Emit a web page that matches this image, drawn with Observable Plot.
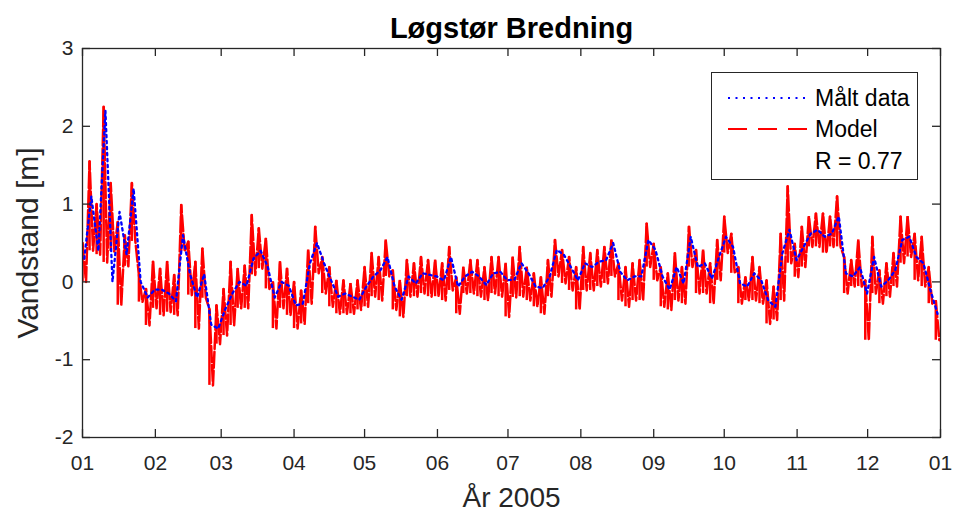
<!DOCTYPE html>
<html><head><meta charset="utf-8">
<script src="https://cdn.jsdelivr.net/npm/d3@7"></script>
<script src="https://cdn.jsdelivr.net/npm/@observablehq/plot@0.6"></script>
<style>
body{margin:0;background:#fff;font-family:"Liberation Sans",Arial,sans-serif;}
#wrap{position:relative;width:957px;height:515px;overflow:hidden;}
#legend{position:absolute;left:711px;top:72px;width:207px;height:108px;border:1.5px solid #262626;background:#fff;box-sizing:border-box;}
#legend svg{position:absolute;left:0;top:0;}
</style></head><body><div id="wrap"></div>
<script>
const title = "Løgstør Bredning";
const yLabel = "Vandstand [m]";
const xLabel = "År 2005";
const legendLabels = ["Målt data", "Model", "R = 0.77"];
const yTicks = [-2, -1, 0, 1, 2, 3];
const yearStart = "2005-01-01";
const yearEnd = "2006-01-01";
const stepDays = 3; // one sample every 3 days, starting Jan 1

// Model (red): high and low of the tidal band in each 3-day step [m]
const modelHigh = [0.5,1.55,1.0,2.25,1.27,0.77,0.6,1.27,0.09,-0.09,0.26,0.17,0.26,0.09,0.99,0.52,0.26,0.43,-0.35,-0.3,
  -0.09,0.26,0.17,0.21,0.86,0.69,0.56,0.0,0.26,0.17,0.0,-0.11,0.41,0.71,0.32,0.19,0.02,0.02,-0.02,0.02,
  0.19,0.37,0.32,0.54,0.15,0.02,0.28,0.24,0.32,0.28,0.28,0.24,0.45,0.06,0.19,0.28,0.28,0.19,0.32,0.32,
  0.24,0.32,0.45,0.19,0.11,0.06,0.28,0.54,0.41,0.32,0.19,0.45,0.37,0.41,0.45,0.54,0.24,0.19,0.24,0.28,
  0.75,0.49,0.19,0.11,0.37,0.19,0.71,0.41,0.41,0.24,0.54,0.84,0.62,0.19,0.06,0.32,0.19,0.02,-0.06,0.62,
  1.23,0.49,0.71,0.84,0.88,0.88,0.84,1.1,0.32,0.28,0.54,0.02,0.58,0.15,0.24,0.37,0.84,0.84,0.62,0.58,
  0.19,-0.24];
const modelLow = [0.0,0.4,0.35,0.25,0.39,-0.3,0.2,0.52,-0.26,-0.56,-0.34,-0.43,-0.39,-0.43,0.39,-0.17,-0.6,-0.21,-1.33,-0.8,
  -0.69,-0.56,-0.34,-0.34,0.09,0.17,-0.09,-0.6,-0.34,-0.43,-0.6,-0.54,-0.28,0.11,-0.15,-0.32,-0.41,-0.41,-0.41,-0.36,
  -0.32,-0.19,-0.24,0.07,-0.36,-0.45,-0.19,-0.19,-0.15,-0.19,-0.19,-0.24,-0.11,-0.41,-0.15,-0.15,-0.19,-0.24,-0.15,-0.19,
  -0.45,-0.2,-0.19,-0.24,-0.32,-0.41,-0.19,0.07,-0.02,-0.11,-0.36,-0.11,-0.11,-0.06,-0.02,0.07,-0.24,-0.32,-0.24,-0.24,
  0.19,0.02,-0.32,-0.36,-0.24,-0.28,0.19,-0.15,-0.15,-0.28,0.02,0.37,0.11,-0.28,-0.24,-0.24,-0.28,-0.54,-0.49,-0.24,
  0.24,0.06,0.19,0.45,0.45,0.37,0.45,0.45,-0.15,-0.06,-0.06,-0.75,-0.15,-0.28,-0.19,-0.06,0.24,0.32,0.02,-0.06,
  -0.28,-0.75];
// Measured (blue) water level [m]
const measured = [0.3,1.1,0.4,2.2,0.0,0.9,0.35,1.2,0.0,-0.2,-0.1,-0.1,-0.15,-0.25,0.6,0.1,-0.2,0.1,-0.55,-0.6,
  -0.35,-0.15,0.0,-0.05,0.3,0.4,0.2,-0.2,0.0,-0.05,-0.3,-0.28,0.24,0.5,0.24,0.02,-0.19,-0.15,-0.19,-0.23,
  -0.06,0.07,0.15,0.32,-0.06,-0.23,0.07,-0.02,0.11,0.09,0.07,0.02,0.32,-0.06,0.07,0.13,0.07,-0.04,0.11,0.13,
  0.02,0.03,0.24,0.11,-0.06,-0.08,0.07,0.41,0.35,0.19,0.02,0.24,0.19,0.26,0.28,0.5,0.13,0.02,0.07,0.07,
  0.54,0.41,0.07,-0.1,0.19,-0.02,0.58,0.19,0.24,0.04,0.32,0.58,0.45,-0.02,-0.06,0.11,0.02,-0.24,-0.32,0.37,
  0.67,0.28,0.45,0.62,0.67,0.58,0.62,0.84,0.11,0.07,0.19,-0.15,0.32,-0.06,0.02,0.15,0.54,0.58,0.32,0.24,
  -0.11,-0.41];

const t0 = new Date(yearStart + "T00:00Z");
const dayMs = 864e5;
const modelPts = [];
const modelBars = [];
modelHigh.forEach((h, i) => {
  const ta = new Date(+t0 + i * stepDays * dayMs);
  const tb = new Date(+t0 + (i * stepDays + stepDays / 2) * dayMs);
  modelPts.push({t: ta, v: h});
  modelPts.push({t: tb, v: modelLow[i]});
  modelBars.push({t: ta, lo: modelLow[i], hi: h});
});
const measPts = measured.map((v, i) => ({t: new Date(+t0 + (i * stepDays + 0.75) * dayMs), v}));
const months = d3.utcMonth.range(t0, d3.utcDay.offset(new Date(yearEnd + "T00:00Z"), 1));

const W = 957, H = 515, mL = 82, mR = 17, mT = 48, mB = 78;
const pw = W - mL - mR, ph = H - mT - mB;
const axisCol = "#262626";

const chart = Plot.plot({
  width: W, height: H,
  marginLeft: mL, marginRight: mR, marginTop: mT, marginBottom: mB,
  style: {fontFamily: "'Liberation Sans', Arial, sans-serif", fontSize: "21px", color: axisCol, background: "#fff"},
  x: {type: "utc", domain: [t0, new Date(yearEnd + "T00:00Z")], label: null},
  y: {domain: [-2, 3], label: null},
  marks: [
    Plot.ruleX(modelBars, {x: "t", y1: "lo", y2: "hi", stroke: "#ff0000", strokeWidth: 2.5, clip: true}),
    Plot.line(modelPts, {x: "t", y: "v", stroke: "#ff0000", strokeWidth: 2.5, strokeDasharray: "16,3", clip: true}),
    Plot.line(measPts, {x: "t", y: "v", stroke: "#0000ff", strokeWidth: 2.3, strokeDasharray: "2.3,3.7", clip: true}),
    Plot.frame({stroke: axisCol, strokeWidth: 1.3}),
    Plot.tickX(months, {x: d => d, stroke: axisCol, strokeWidth: 1.3, insetBottom: ph - 8}),
    Plot.tickX(months, {x: d => d, stroke: axisCol, strokeWidth: 1.3, insetTop: ph - 8}),
    Plot.tickY(yTicks, {y: d => d, stroke: axisCol, strokeWidth: 1.3, insetRight: pw - 8}),
    Plot.tickY(yTicks, {y: d => d, stroke: axisCol, strokeWidth: 1.3, insetLeft: pw - 8}),
    Plot.axisX(months, {tickSize: 0, tickPadding: 18, tickFormat: d3.utcFormat("%m"), label: null, fill: axisCol}),
    Plot.axisY(yTicks, {tickSize: 0, tickPadding: 9, tickFormat: d => String(d), label: null, fill: axisCol}),
    Plot.text([title], {frameAnchor: "top", dy: -20, lineAnchor: "middle", fontWeight: "bold", fontSize: 29, fill: "#000"}),
    Plot.text([xLabel], {frameAnchor: "bottom", dy: 61, lineAnchor: "middle", fontSize: 28, fill: axisCol}),
    Plot.text([yLabel], {frameAnchor: "left", dx: -54, rotate: -90, textAnchor: "middle", lineAnchor: "middle", fontSize: 30, fill: axisCol})
  ]
});
const wrap = document.getElementById("wrap");
wrap.appendChild(chart);

// legend box
const leg = document.createElement("div");
leg.id = "legend";
wrap.appendChild(leg);
const ls = d3.select(leg).append("svg").attr("width", 207).attr("height", 108)
  .style("font-family", "'Liberation Sans', Arial, sans-serif");
const rows = [
  {y: 25, stroke: "#0000ff", dash: "2,5.5", w: 2},
  {y: 56, stroke: "#ff0000", dash: "19,11", w: 2},
  {y: 88, stroke: null}
];
rows.forEach((r, i) => {
  if (r.stroke) ls.append("line").attr("x1", 16).attr("x2", 96).attr("y1", r.y).attr("y2", r.y)
    .attr("stroke", r.stroke).attr("stroke-width", r.w).attr("stroke-dasharray", r.dash);
  ls.append("text").attr("x", 103).attr("y", r.y).attr("dy", "0.35em").attr("font-size", 23)
    .attr("fill", "#000").text(legendLabels[i]);
});
</script></body></html>
